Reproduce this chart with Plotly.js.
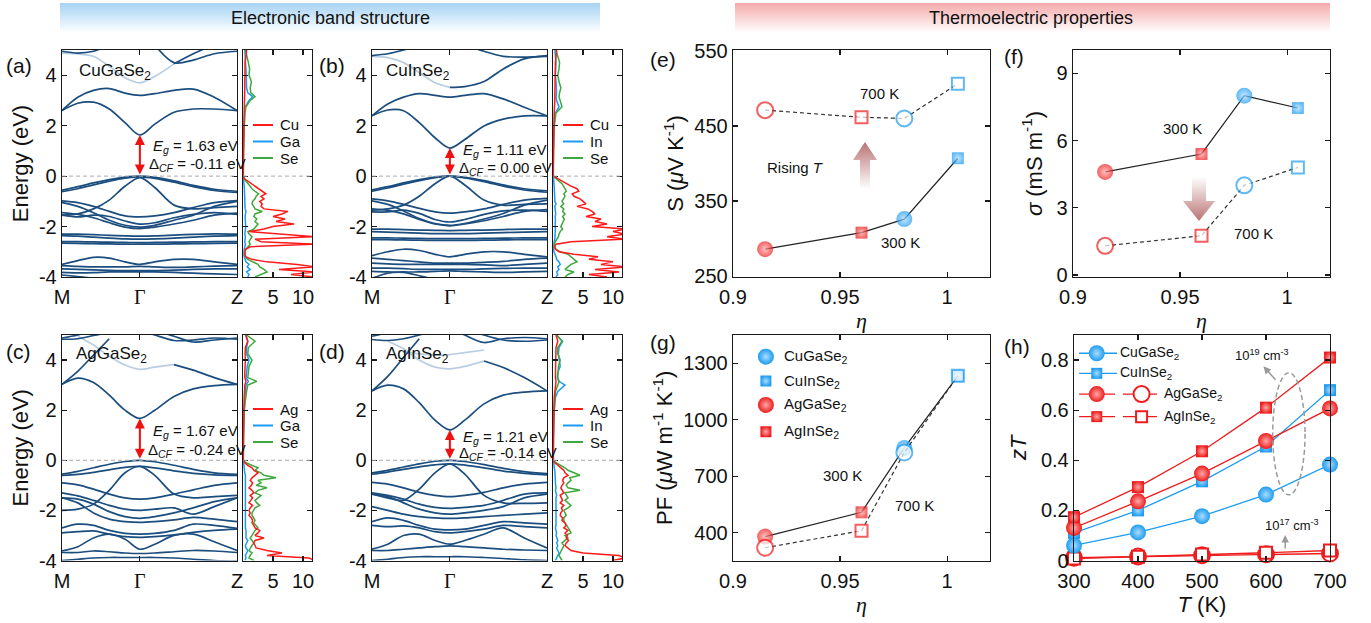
<!DOCTYPE html>
<html><head><meta charset="utf-8">
<script src="https://cdn.plot.ly/plotly-3.0.1.min.js"></script>
<style>html,body{margin:0;padding:0;background:#fff}#chart{width:1371px;height:623px}</style>
</head><body><div id="chart"></div>
<script>
// ---------------- DATA ----------------
const kpts = [0, 0.09, 0.18, 0.27, 0.36, 0.445, 0.53, 0.64, 0.75, 0.87, 1.0];
const kGamma = 0.445;
const kLabels = ['M', 'Γ', 'Z'];

// (a) CuGaSe2 bands
const bandsA = [
 [2.6, 2.89, 2.93, 2.66, 2.12, 1.63, 2.06, 2.53, 2.66, 2.66, 2.6],
 [2.6, 3.13, 3.4, 3.47, 3.29, 3.2, 3.27, 3.4, 3.45, 3.13, 2.6],
 [4.95, 4.88, 4.95, 5.2, null, null, null, null, null, null, null],
 [null, null, null, null, null, null, null, 4.45, 4.85, 5.2, 5.4],
 [null, null, null, null, null, null, 5.2, 4.5, 4.6, 4.85, 4.95],
 [-0.56, -0.42, -0.27, -0.14, -0.04, 0.0, -0.05, -0.19, -0.37, -0.52, -0.6],
 [-0.62, -0.5, -0.35, -0.2, -0.08, -0.03, -0.09, -0.24, -0.42, -0.57, -0.65],
 [-1.55, -1.5, -1.3, -0.95, -0.4, -0.06, -0.45, -1.15, -1.3, -1.25, -1.2],
 [-0.98, -1.05, -1.2, -1.4, -1.58, -1.62, -1.58, -1.45, -1.25, -1.05, -0.97],
 [-1.05, -1.2, -1.45, -1.75, -1.95, -2.02, -1.95, -1.75, -1.55, -1.2, -1.0],
 [-1.45, -1.52, -1.65, -1.85, -2.02, -2.08, -2.02, -1.9, -1.75, -1.55, -1.47],
 [-1.55, -1.62, -1.55, -1.6, -1.78, -1.9, -1.85, -1.65, -1.52, -1.45, -1.52],
 [-2.3, -2.3, -2.32, -2.35, -2.37, -2.38, -2.37, -2.34, -2.31, -2.29, -2.3],
 [-2.36, -2.38, -2.42, -2.46, -2.49, -2.5, -2.49, -2.46, -2.42, -2.38, -2.36],
 [-2.6, -2.6, -2.61, -2.62, -2.63, -2.64, -2.63, -2.62, -2.61, -2.6, -2.6],
 [-2.66, -2.67, -2.68, -2.69, -2.7, -2.7, -2.7, -2.69, -2.68, -2.67, -2.66],
 [-3.5, -3.35, -3.22, -3.25, -3.4, -3.5, -3.4, -3.3, -3.3, -3.4, -3.5],
 [-3.55, -3.58, -3.6, -3.6, -3.6, -3.58, -3.6, -3.62, -3.6, -3.57, -3.55],
 [-3.68, -3.7, -3.72, -3.74, -3.75, -3.75, -3.75, -3.73, -3.7, -3.68, -3.68],
 [-3.82, -3.84, -3.83, -3.8, -3.8, -3.8, -3.8, -3.82, -3.85, -3.88, -3.9],
 [-3.92, -3.98, -4.05, -4.1, null, null, null, null, null, null, null]
];
const fadedA = [[4.88, 4.85, 4.75, 4.35, 3.9, 3.7, 3.95, 4.45, null, null, null]];

// (b) CuInSe2 bands
const bandsB = [
 [2.39, 2.62, 2.59, 2.12, 1.52, 1.11, 1.45, 1.99, 2.26, 2.39, 2.39],
 [2.39, 2.86, 3.13, 3.27, 3.2, 3.13, 3.2, 3.27, 3.06, 2.73, 2.39],
 [null, null, null, null, null, 3.52, 3.55, 3.75, 4.25, 4.65, 4.78],
 [4.78, 4.85, 5.0, 5.2, null, null, 5.2, 4.95, 4.75, 4.72, 4.75],
 [-0.55, -0.42, -0.27, -0.14, -0.04, 0.0, -0.05, -0.18, -0.35, -0.5, -0.58],
 [-0.6, -0.47, -0.32, -0.18, -0.06, 0.0, -0.07, -0.22, -0.4, -0.55, -0.64],
 [-1.35, -1.3, -1.15, -0.8, -0.3, 0.0, -0.35, -0.95, -1.15, -1.12, -1.1],
 [-0.9, -0.98, -1.12, -1.28, -1.42, -1.47, -1.42, -1.3, -1.12, -0.95, -0.88],
 [-0.98, -1.12, -1.38, -1.68, -1.88, -1.95, -1.88, -1.7, -1.48, -1.15, -0.95],
 [-1.3, -1.36, -1.5, -1.72, -1.9, -1.97, -1.9, -1.77, -1.6, -1.4, -1.33],
 [-1.42, -1.42, -1.35, -1.48, -1.72, -1.82, -1.72, -1.52, -1.38, -1.35, -1.4],
 [-2.1, -2.1, -2.12, -2.14, -2.15, -2.16, -2.15, -2.14, -2.12, -2.1, -2.1],
 [-2.2, -2.22, -2.24, -2.26, -2.28, -2.28, -2.28, -2.26, -2.24, -2.22, -2.2],
 [-2.45, -2.45, -2.46, -2.47, -2.48, -2.48, -2.48, -2.47, -2.46, -2.45, -2.45],
 [-2.52, -2.52, -2.53, -2.54, -2.55, -2.55, -2.55, -2.54, -2.53, -2.52, -2.52],
 [-3.15, -3.0, -2.9, -2.95, -3.1, -3.2, -3.1, -3.0, -3.0, -3.1, -3.2],
 [-3.25, -3.3, -3.35, -3.4, -3.45, -3.45, -3.45, -3.42, -3.38, -3.3, -3.25],
 [-3.45, -3.48, -3.5, -3.5, -3.5, -3.5, -3.5, -3.52, -3.55, -3.5, -3.45],
 [-3.65, -3.65, -3.67, -3.7, -3.7, -3.7, -3.7, -3.68, -3.66, -3.65, -3.65],
 [-3.78, -3.8, -3.8, -3.8, -3.78, -3.76, -3.78, -3.8, -3.82, -3.8, -3.78],
 [-4.05, -3.85, -3.82, -3.95, -4.1, null, null, null, null, null, null]
];
const fadedB = [[4.75, 4.7, 4.5, 4.1, 3.7, 3.52, null, null, null, null, null]];

// (c) AgGaSe2 bands
const bandsC = [
 [3.03, 3.28, 3.1, 2.6, 2.0, 1.67, 2.0, 2.55, 2.85, 2.98, 3.03],
 [3.03, 3.55, 4.2, 4.85, null, null, null, null, null, null, null],
 [null, null, null, null, null, null, null, 3.82, 3.6, 3.3, 3.03],
 [4.83, 4.85, 4.98, 5.1, 5.2, 5.2, 5.0, 4.78, 4.8, 4.88, 4.83],
 [4.88, 5.0, 5.2, 5.3, null, null, 5.2, 4.95, 4.72, 4.8, 4.88],
 [-0.55, -0.44, -0.3, -0.16, -0.05, 0.0, -0.06, -0.2, -0.36, -0.5, -0.56],
 [-0.6, -0.56, -0.48, -0.38, -0.28, -0.24, -0.3, -0.42, -0.52, -0.58, -0.6],
 [-2.0, -1.95, -1.75, -1.2, -0.5, -0.24, -0.6, -1.35, -1.5, -1.45, -1.4],
 [-0.9, -0.98, -1.15, -1.35, -1.5, -1.55, -1.5, -1.35, -1.18, -1.0, -0.9],
 [-1.3, -1.42, -1.6, -1.8, -1.95, -2.0, -1.95, -1.9, -2.15, -1.85, -1.5],
 [-1.5, -1.55, -1.75, -2.05, -2.25, -2.32, -2.25, -2.1, -1.9, -1.65, -1.5],
 [-1.5, -1.7, -2.1, -2.35, -2.45, -2.48, -2.45, -2.38, -2.28, -2.35, -2.45],
 [-2.7, -2.55, -2.6, -2.8, -2.92, -2.95, -2.92, -2.8, -2.55, -2.6, -2.72],
 [-2.9, -2.85, -2.82, -2.95, -3.05, -3.08, -3.05, -2.98, -2.88, -2.8, -2.75],
 [-3.62, -3.45, -3.1, -2.95, -3.15, -3.55, -3.35, -3.0, -2.95, -3.25, -3.6],
 [-3.68, -3.68, -3.62, -3.65, -3.7, -3.72, -3.7, -3.65, -3.6, -3.62, -3.68],
 [-4.0, -3.95, -3.9, -3.88, -3.88, -3.88, -3.88, -3.9, -3.95, -4.0, -4.02]
];
const fadedC = [[null, 4.95, 4.6, 4.15, 3.8, 3.63, 3.72, 3.82, null, null, null]];

// (d) AgInSe2 bands
const bandsD = [
 [2.77, 3.0, 2.85, 2.3, 1.6, 1.21, 1.6, 2.25, 2.6, 2.72, 2.77],
 [2.77, 3.35, 4.1, 4.85, null, null, null, null, null, null, null],
 [null, null, null, null, null, null, null, 3.96, 3.7, 3.3, 2.77],
 [4.82, 4.78, 4.85, 5.0, 5.2, 5.3, 5.0, 4.7, 4.85, 4.9, 4.85],
 [4.95, 5.1, 5.3, null, null, null, 5.3, 5.0, 4.8, 4.75, 4.8],
 [-0.5, -0.4, -0.27, -0.14, -0.04, 0.0, -0.05, -0.17, -0.32, -0.45, -0.53],
 [-0.55, -0.47, -0.36, -0.26, -0.18, -0.14, -0.19, -0.3, -0.43, -0.52, -0.58],
 [-1.35, -1.5, -1.6, -1.15, -0.5, -0.14, -0.55, -1.4, -1.7, -1.72, -1.7],
 [-0.88, -0.95, -1.1, -1.28, -1.4, -1.45, -1.4, -1.28, -1.1, -0.95, -0.88],
 [-1.3, -1.4, -1.55, -1.75, -1.88, -1.92, -1.88, -1.8, -1.6, -1.35, -1.3],
 [-1.35, -1.45, -1.7, -1.95, -2.1, -2.15, -2.1, -2.0, -1.85, -1.5, -1.35],
 [-1.85, -2.0, -2.15, -2.25, -2.3, -2.32, -2.3, -2.25, -2.2, -2.15, -2.1],
 [-2.45, -2.3, -2.4, -2.6, -2.75, -2.78, -2.75, -2.6, -2.45, -2.5, -2.55],
 [-2.6, -2.65, -2.62, -2.7, -2.85, -2.9, -2.85, -2.75, -2.6, -2.65, -2.7],
 [-3.55, -3.35, -3.0, -2.95, -3.2, -3.35, -3.2, -2.95, -2.7, -3.1, -3.5],
 [-3.6, -3.6, -3.55, -3.5, -3.45, -3.42, -3.45, -3.5, -3.55, -3.58, -3.6],
 [-4.0, -3.95, -3.88, -3.85, -3.85, -3.85, -3.85, -3.88, -3.92, -3.97, -4.0]
];
const fadedD = [
 [null, 4.75, 4.45, 4.0, 3.72, 3.65, 3.75, 3.96, null, null, null],
 [null, null, 4.35, 4.25, 4.2, 4.22, 4.3, 4.4, null, null, null]
];

const gapText = {
 a: ['1.63', '-0.11'], b: ['1.11', '0.00'], c: ['1.67', '-0.24'], d: ['1.21', '-0.14']
};
const gapValue = {a: 1.63, b: 1.11, c: 1.67, d: 1.21};

// DOS energy grid and projected DOS
const dosE = [-4.0,-3.9,-3.8,-3.7,-3.6,-3.5,-3.4,-3.3,-3.2,-3.1,
 -3.0,-2.9,-2.8,-2.7,-2.6,-2.5,-2.4,-2.3,-2.2,-2.1,
 -2.0,-1.9,-1.8,-1.7,-1.6,-1.5,-1.4,-1.3,-1.2,-1.1,
 -1.0,-0.9,-0.8,-0.7,-0.6,-0.5,-0.4,-0.3,-0.2,-0.1,
 0.0,
 0.2,1.0,1.5,2.0,2.5,2.75,3.0,3.15,3.3,3.5,
 3.75,4.0,4.25,4.5,4.75,5.0];

const dosA_Cu = [12,8,12,6,12,9,4,1.5,0.5,0.3,
 0.3,0.4,1.2,12,3,2,12,6,1.0,3.5,
 5.0,8.5,5.5,7.0,5.0,6.5,7.5,3.5,3.0,3.2,
 2.8,3.5,3.0,3.8,3.2,2.5,2.0,1.5,0.8,0.2,
 0.05,
 0.05,0.05,0.1,0.15,0.2,0.25,0.3,0.35,0.3,0.3,
 0.3,0.3,0.35,0.35,0.5,0.6];
const dosA_Ga = [0.8,1.0,0.6,1.2,0.7,1.0,0.5,0.3,0.2,0.15,
 0.15,0.2,0.3,0.4,0.3,0.35,0.4,0.3,0.3,0.4,
 0.45,0.4,0.35,0.4,0.35,0.4,0.5,0.35,0.3,0.3,
 0.3,0.3,0.3,0.3,0.3,0.25,0.2,0.15,0.1,0.05,
 0.02,
 0.02,0.05,0.1,0.15,0.3,0.4,1.0,1.6,0.8,0.6,
 0.6,0.5,0.5,0.4,0.3,0.3];
const dosA_Se = [2,3,4,3.5,2.8,2.5,1.5,0.8,0.4,0.3,
 0.3,0.5,0.8,1.2,1.0,1.2,1.5,1.0,0.8,1.8,
 2.2,2.5,2.0,2.3,1.8,2.0,3.2,2.0,1.8,1.5,
 1.6,2.0,2.2,2.6,2.0,1.5,1.2,0.8,0.4,0.15,
 0.05,
 0.05,0.05,0.1,0.2,0.3,0.5,1.2,2.0,1.3,1.2,
 1.4,1.0,1.1,0.9,0.6,0.4];

const dosB_Cu = [9,6,11,7,12,8,10,6,7.5,3.5,
 1.0,0.4,0.3,0.5,3,12,9,12,10,12,
 6.5,9.0,7.0,8.0,5.5,7.0,6.5,5.8,4.0,5.5,
 5.0,4.5,3.5,3.2,4.3,4.0,3.0,2.2,1.5,0.8,
 0.05,
 0.05,0.05,0.1,0.15,0.2,0.3,0.3,0.3,0.3,0.3,
 0.35,0.3,0.35,0.4,0.5,0.6];
const dosB_In = [0.5,0.8,0.6,1.0,0.8,1.2,1.0,0.6,0.5,0.3,
 0.15,0.1,0.1,0.15,0.2,0.3,0.35,0.4,0.35,0.4,
 0.35,0.4,0.35,0.4,0.35,0.45,0.4,0.35,0.3,0.5,
 0.3,0.3,0.3,0.3,0.3,0.25,0.2,0.15,0.1,0.05,
 0.02,
 0.02,0.05,0.1,0.2,0.4,1.0,0.6,0.5,0.6,0.6,
 0.5,0.4,0.5,0.5,0.4,0.3];
const dosB_Se = [2.0,2.5,3.5,2.0,2.5,3.0,4.0,3.5,3.0,2.5,
 1.2,0.5,0.2,0.2,0.4,0.7,0.9,1.0,1.2,1.6,
 1.3,1.5,1.7,1.9,1.6,2.0,1.6,1.8,1.3,1.8,
 1.5,1.7,2.0,1.8,2.2,2.0,1.8,1.5,1.0,0.5,
 0.05,
 0.05,0.05,0.1,0.2,0.5,1.5,1.2,1.0,1.1,1.3,
 1.0,0.8,1.0,1.1,0.8,0.5];

const dosC_Ag = [12,11,4.0,6.5,4.0,2.2,2.0,1.8,2.0,3.5,
 2.0,2.5,2.8,2.0,1.8,1.5,1.6,1.4,1.0,1.2,
 1.0,1.2,1.6,1.0,1.3,1.6,1.2,1.8,1.5,1.0,
 1.4,1.6,1.2,1.5,2.0,2.5,1.8,1.5,0.8,0.3,
 0.05,
 0.05,0.05,0.1,0.15,0.2,0.25,0.3,0.5,0.3,0.3,
 0.4,0.4,0.35,0.4,0.8,0.5];
const dosC_Ga = [0.3,0.5,0.4,0.6,0.8,0.5,0.4,0.6,0.8,0.5,
 0.5,0.6,0.5,0.4,0.4,0.5,0.4,0.4,0.4,0.4,
 0.4,0.4,0.4,0.5,0.4,0.5,0.5,0.5,0.4,0.4,
 0.4,0.4,0.4,0.4,0.4,0.3,0.3,0.2,0.15,0.1,
 0.02,
 0.02,0.05,0.1,0.2,0.3,0.4,0.5,0.9,0.5,0.6,
 0.7,1.0,0.6,0.6,0.8,0.4];
const dosC_Se = [1.8,1.0,1.2,1.5,1.0,1.2,1.5,1.8,1.5,1.2,
 1.5,1.8,2.0,2.5,2.2,1.8,2.0,1.8,1.5,1.5,
 1.8,2.0,2.8,2.3,2.0,2.5,3.0,2.0,2.5,4.0,
 2.2,3.0,2.5,5.5,3.5,3.0,2.0,2.5,1.5,0.5,
 0.05,
 0.05,0.05,0.1,0.2,0.4,0.6,0.8,2.3,0.8,0.9,
 1.0,1.5,0.8,0.9,2.0,0.6];

const dosD_Ag = [10,12,11,5.0,3.0,2.5,2.0,2.2,2.6,2.2,
 2.4,2.0,2.5,1.8,2.2,2.0,1.5,1.6,1.2,1.3,
 1.6,1.4,1.8,1.2,1.6,1.4,1.2,1.8,1.6,1.3,
 1.5,1.8,1.6,1.8,2.5,2.0,1.8,1.2,0.8,0.3,
 0.05,
 0.05,0.05,0.1,0.15,0.2,0.3,0.4,0.5,0.4,0.4,
 0.5,0.5,0.4,0.5,0.8,0.5];
const dosD_In = [0.4,0.6,0.8,1.0,0.8,0.6,0.8,0.6,0.8,0.7,
 0.5,0.6,0.5,0.4,0.5,0.5,0.4,0.4,0.5,0.5,
 0.4,0.5,0.5,0.4,0.5,0.5,0.6,0.5,0.4,0.5,
 0.4,0.4,0.4,0.4,0.4,0.3,0.3,0.2,0.15,0.1,
 0.02,
 0.02,0.05,0.1,0.2,0.4,0.8,2.0,1.0,0.7,0.8,
 1.2,1.0,0.9,1.0,1.6,0.6];
const dosD_Se = [1.5,1.2,1.0,1.2,1.4,1.5,1.8,1.5,2.0,2.5,
 2.0,3.0,2.8,2.5,2.2,2.0,1.8,1.8,2.2,2.0,
 1.8,2.5,3.0,2.5,2.0,2.5,2.2,2.0,4.5,2.5,
 2.2,2.5,3.0,2.8,4.5,3.5,2.5,2.0,1.2,0.5,
 0.05,
 0.05,0.05,0.1,0.2,0.3,0.4,0.8,1.0,0.8,0.8,
 0.9,1.2,0.8,0.8,1.5,0.6];

// Thermoelectric data
const materials = ['AgGaSe2', 'AgInSe2', 'CuGaSe2', 'CuInSe2'];
const eta = [0.915, 0.96, 0.98, 1.005];
const S_300 = [286, 308, 326, 407];
const S_700 = [471, 461.5, 460, 506];
const sigma_300 = [4.6, 5.4, 8.0, 7.45];
const sigma_700 = [1.3, 1.75, 4.0, 4.8];
const PF_300 = [379, 508, 850, 1233];
const PF_700 = [320, 410, 826, 1233];

const T = [300, 400, 500, 600, 700];
const zT_CuGaSe2 = [0.06, 0.112, 0.177, 0.263, 0.383];
const zT_CuInSe2 = [0.11, 0.20, 0.316, 0.455, 0.68];
const zT_AgGaSe2_hi = [0.13, 0.236, 0.347, 0.477, 0.607];
const zT_AgInSe2_hi = [0.173, 0.293, 0.436, 0.61, 0.81];
const zT_AgGaSe2_lo = [0.011, 0.016, 0.021, 0.025, 0.028];
const zT_AgInSe2_lo = [0.008, 0.015, 0.024, 0.031, 0.04];

// ---------------- STYLE / LAYOUT ----------------
const W = 1371, H = 623;
const NAVY = '#1b4d7e', FADE = '#b9cde2';
const BLUE = '#1e9cf0', RED = '#ee1c1c';
const BLUE_C = '#a9dcff', RED_C = '#ffa8a8';
const DOS_RED = '#ff1a1a', DOS_BLUE = '#1a9af5', DOS_GREEN = '#3da83d';
const FONT = 'Liberation Sans, Arial, sans-serif';
const SERIF = 'Liberation Serif, Times New Roman, serif';
const TICK = 20, TITLE = 22;

const dx = (a, b) => [a / W, b / W];
const dy = (top, bottom) => [1 - bottom / H, 1 - top / H];
const P = (x, y) => ({x: x / W, y: 1 - y / H});

const bandXL = dx(62, 237), dosXL = dx(243, 312), bandXR = dx(372, 547), dosXR = dx(553, 622);
const row1 = dy(50, 277), row2 = dy(335, 560.5);
const eX = dx(733, 990), fX = dx(1073, 1330), gX = dx(733, 990), hX = dx(1074, 1330);

const traces = [];
const ax = n => (n === 1 ? '' : String(n));
const centerOf = c => (c === RED ? RED_C : BLUE_C);

function addBands(bands, faded, n) {
  faded.forEach(b => traces.push({x: kpts, y: b, xaxis: 'x' + ax(n), yaxis: 'y' + ax(n), mode: 'lines',
    line: {color: FADE, width: 1.7, shape: 'spline', smoothing: 0.9}, hoverinfo: 'skip'}));
  bands.forEach(b => traces.push({x: kpts, y: b, xaxis: 'x' + ax(n), yaxis: 'y' + ax(n), mode: 'lines',
    line: {color: NAVY, width: 1.7, shape: 'spline', smoothing: 0.9}, hoverinfo: 'skip'}));
}
function addDOS(d1, d2, d3, n) {
  [[d2, DOS_BLUE], [d3, DOS_GREEN], [d1, DOS_RED]].forEach(([d, c]) => traces.push({
    x: d, y: dosE, xaxis: 'x' + ax(n), yaxis: 'y' + ax(n), mode: 'lines',
    line: {color: c, width: 1.5}, hoverinfo: 'skip'}));
}
addBands(bandsA, fadedA, 1); addDOS(dosA_Cu, dosA_Ga, dosA_Se, 2);
addBands(bandsB, fadedB, 3); addDOS(dosB_Cu, dosB_In, dosB_Se, 4);
addBands(bandsC, fadedC, 5); addDOS(dosC_Ag, dosC_Ga, dosC_Se, 6);
addBands(bandsD, fadedD, 7); addDOS(dosD_Ag, dosD_In, dosD_Se, 8);

// property panels
const symCol = [RED, RED, BLUE, BLUE];
const symSym = ['circle', 'square', 'circle', 'square'];
const symSize = [16, 12, 16, 12];
const symGrad = symCol.map(centerOf);
function addEta(y300, y700, n) {
  traces.push({x: eta, y: y300, xaxis: 'x' + n, yaxis: 'y' + n, mode: 'lines+markers', cliponaxis: false,
    line: {color: '#222', width: 1.2},
    marker: {symbol: symSym, size: symSize, color: symCol, gradient: {type: 'radial', color: symGrad}, line: {width: 0}},
    hoverinfo: 'skip'});
  traces.push({x: eta, y: y700, xaxis: 'x' + n, yaxis: 'y' + n, mode: 'lines+markers', cliponaxis: false,
    line: {color: '#333', width: 1.2, dash: '4px,3px'},
    marker: {symbol: symSym, size: symSize, color: '#fff', line: {color: symCol, width: 2}},
    hoverinfo: 'skip'});
}
addEta(S_300, S_700, 9);
addEta(sigma_300, sigma_700, 10);
addEta(PF_300, PF_700, 11);

function addZT(y, color, sym, size, filled) {
  traces.push({x: T, y: y, xaxis: 'x12', yaxis: 'y12', mode: 'lines+markers', cliponaxis: false,
    line: {color: color, width: 1.3},
    marker: filled ? {symbol: sym, size: size, color: color, gradient: {type: 'radial', color: centerOf(color)}, line: {width: 0}}
                   : {symbol: sym, size: size, color: '#fff', line: {color: color, width: 2}},
    hoverinfo: 'skip'});
}
addZT(zT_AgGaSe2_lo, RED, 'circle', 16, false);
addZT(zT_AgInSe2_lo, RED, 'square', 12, false);
addZT(zT_CuGaSe2, BLUE, 'circle', 16, true);
addZT(zT_CuInSe2, BLUE, 'square', 12, true);
addZT(zT_AgGaSe2_hi, RED, 'circle', 16, true);
addZT(zT_AgInSe2_hi, RED, 'square', 12, true);

// legend samples (layout positions inside overlay axes 13 / 14)
const legG = [['CuGaSe<sub>2</sub>', BLUE, 'circle', 16, 0.904], ['CuInSe<sub>2</sub>', BLUE, 'square', 11, 0.796],
              ['AgGaSe<sub>2</sub>', RED, 'circle', 16, 0.690], ['AgInSe<sub>2</sub>', RED, 'square', 11, 0.571]];
legG.forEach(([t, c, s, z, yy]) => traces.push({x: [0.128], y: [yy], xaxis: 'x13', yaxis: 'y13', mode: 'markers', cliponaxis: false,
  marker: {symbol: s, size: z, color: c, gradient: {type: 'radial', color: centerOf(c)}}, hoverinfo: 'skip'}));
const legH = [['CuGaSe<sub>2</sub>', BLUE, 'circle', 16, 0.919, false], ['CuInSe<sub>2</sub>', BLUE, 'square', 11, 0.830, false],
              ['AgGaSe<sub>2</sub>', RED, 'circle', 16, 0.738, true], ['AgInSe<sub>2</sub>', RED, 'square', 11, 0.638, true]];
legH.forEach(([t, c, s, z, yy, two]) => {
  traces.push({x: two ? [0.02, 0.16] : [0.02, 0.168], y: [yy, yy], xaxis: 'x14', yaxis: 'y14', mode: 'lines', cliponaxis: false,
    line: {color: c, width: 1.3}, hoverinfo: 'skip'});
  traces.push({x: [0.089], y: [yy], xaxis: 'x14', yaxis: 'y14', mode: 'markers', cliponaxis: false,
    marker: {symbol: s, size: z, color: c, gradient: {type: 'radial', color: centerOf(c)}}, hoverinfo: 'skip'});
  if (two) {
    traces.push({x: [0.191, 0.324], y: [yy, yy], xaxis: 'x14', yaxis: 'y14', mode: 'lines', cliponaxis: false,
      line: {color: c, width: 1.3}, hoverinfo: 'skip'});
    traces.push({x: [0.264], y: [yy], xaxis: 'x14', yaxis: 'y14', mode: 'markers', cliponaxis: false,
      marker: {symbol: s, size: z, color: '#fff', line: {color: c, width: 2}}, hoverinfo: 'skip'});
  }
});

function axis(domain, anchor, extra) {
  return Object.assign({domain: domain, anchor: anchor, showline: true, linecolor: '#1a1a1a', linewidth: 1.3,
    mirror: 'ticks', ticks: 'inside', ticklen: 5, tickwidth: 1.2, tickcolor: '#1a1a1a', showgrid: false,
    zeroline: false, tickfont: {size: TICK, color: '#111', family: FONT}, fixedrange: true}, extra);
}
const bandTickText = ['M', '<span style="font-family:' + SERIF + '">Γ</span>', 'Z'];
const bandX = d => ({range: [0, 1], tickvals: [0, kGamma, 1], ticktext: bandTickText, ticklabelstandoff: 2});
const bandY = (title) => ({range: [-4, 5], tickvals: [-4, -2, 0, 2, 4], ticktext: ['-4', '-2', '0', '2', '4'],
  title: title ? {text: 'Energy (eV)', font: {size: TITLE, color: '#111'}, standoff: 4} : undefined});
const dosX = {range: [0, 11.5], tickvals: [5, 10], ticktext: ['5', '10'], ticklabelstandoff: 2};
const dosY = {range: [-4, 5], tickvals: [-4, -2, 0, 2, 4], showticklabels: false};
const etaX = {range: [0.9, 1.02], tickvals: [0.9, 0.95, 1], ticktext: ['0.9', '0.95', '1'], ticklabelstandoff: 2,
  title: {text: '<i>η</i>', font: {size: TITLE, family: SERIF, color: '#111'}, standoff: 4}};

const layout = {
  width: W, height: H, margin: {l: 0, r: 0, t: 0, b: 0}, showlegend: false,
  paper_bgcolor: '#fff', plot_bgcolor: 'rgba(0,0,0,0)', font: {family: FONT, color: '#111'},
  xaxis: axis(bandXL, 'y', bandX()), yaxis: axis(row1, 'x', bandY(true)),
  xaxis2: axis(dosXL, 'y2', dosX), yaxis2: axis(row1, 'x2', dosY),
  xaxis3: axis(bandXR, 'y3', bandX()), yaxis3: axis(row1, 'x3', bandY(false)),
  xaxis4: axis(dosXR, 'y4', dosX), yaxis4: axis(row1, 'x4', dosY),
  xaxis5: axis(bandXL, 'y5', bandX()), yaxis5: axis(row2, 'x5', bandY(true)),
  xaxis6: axis(dosXL, 'y6', dosX), yaxis6: axis(row2, 'x6', dosY),
  xaxis7: axis(bandXR, 'y7', bandX()), yaxis7: axis(row2, 'x7', bandY(false)),
  xaxis8: axis(dosXR, 'y8', dosX), yaxis8: axis(row2, 'x8', dosY),
  xaxis9: axis(eX, 'y9', etaX),
  yaxis9: axis(row1, 'x9', {range: [249, 551], tickvals: [250, 350, 450, 550],
    title: {text: 'S (<i>μ</i>V K<sup>-1</sup>)', font: {size: TITLE, color: '#111'}, standoff: 4}}),
  xaxis10: axis(fX, 'y10', etaX),
  yaxis10: axis(row1, 'x10', {range: [-0.09, 10.04], tickvals: [0, 3, 6, 9],
    title: {text: '<i>σ</i> (mS m<sup>-1</sup>)', font: {size: TITLE, color: '#111'}, standoff: 8}}),
  xaxis11: axis(gX, 'y11', etaX),
  yaxis11: axis(row2, 'x11', {range: [252, 1450], tickvals: [400, 700, 1000, 1300],
    title: {text: 'PF (<i>μ</i>W m<sup>-1</sup> K<sup>-1</sup>)', font: {size: TITLE, color: '#111'}, standoff: 4}}),
  xaxis12: axis(hX, 'y12', {range: [300, 700], tickvals: [300, 400, 500, 600, 700], ticklabelstandoff: 2,
    title: {text: '<i>T</i> (K)', font: {size: TITLE, color: '#111'}, standoff: 2}}),
  yaxis12: axis(row2, 'x12', {range: [0, 0.9], tickvals: [0, 0.2, 0.4, 0.6, 0.8], ticktext: ['0', '0.2', '0.4', '0.6', '0.8'],
    title: {text: '<i>zT</i>', font: {size: TITLE, color: '#111'}, standoff: 8}}),
  xaxis13: {domain: gX, anchor: 'y13', range: [0, 1], visible: false, fixedrange: true},
  yaxis13: {domain: row2, anchor: 'x13', range: [0, 1], visible: false, fixedrange: true},
  xaxis14: {domain: hX, anchor: 'y14', range: [0, 1], visible: false, fixedrange: true},
  yaxis14: {domain: row2, anchor: 'x14', range: [0, 1], visible: false, fixedrange: true},
  shapes: [], annotations: [], images: []
};

// zero lines
[1, 2, 3, 4, 5, 6, 7, 8].forEach(n => layout.shapes.push({type: 'line', xref: 'x' + ax(n) + ' domain', yref: 'y' + ax(n),
  x0: 0, x1: 1, y0: 0, y1: 0, line: {color: '#aaaaaa', width: 1, dash: '4px,3px'}, layer: 'above'}));

// ellipse in (h)
layout.shapes.push({type: 'circle', xref: 'x12', yref: 'y12', x0: 610.5, x1: 661, y0: 0.262, y1: 0.749,
  line: {color: '#9a9a9a', width: 1.5, dash: '5px,3px'}});

const ann = layout.annotations;
function txt(p, text, size, opts) {
  ann.push(Object.assign({xref: 'paper', yref: 'paper', x: p.x, y: p.y, text: text, showarrow: false,
    font: {size: size, color: '#111', family: FONT}, xanchor: 'center', yanchor: 'middle'}, opts || {}));
}
// headers
txt(P(330, 18), 'Electronic band structure', 18);
txt(P(1031, 18), 'Thermoelectric properties', 18);
// panel labels
[['(a)', 4, 65], ['(b)', 317, 65], ['(c)', 4, 351], ['(d)', 317, 351],
 ['(e)', 648, 60], ['(f)', 1002, 56], ['(g)', 648, 342], ['(h)', 1002, 346]].forEach(([t, x, y]) =>
  txt(P(x, y), t, 21, {xanchor: 'left'}));
// compound labels
[['CuGaSe<sub>2</sub>', 77, 72], ['CuInSe<sub>2</sub>', 384, 72], ['AgGaSe<sub>2</sub>', 74, 355], ['AgInSe<sub>2</sub>', 384, 355]]
  .forEach(([t, x, y]) => txt(P(x, y), t, 17, {xanchor: 'left'}));
// gap texts and arrows
const gapPos = {a: [151, 146, 147, 165, 1], b: [461, 150, 457, 168, 3], c: [151, 431, 146, 450, 5], d: [461, 437, 457, 453, 7]};
Object.keys(gapPos).forEach(k => {
  const [x1, y1, x2, y2, n] = gapPos[k];
  txt(P(x1, y1), '<i>E<sub>g</sub></i> = ' + gapText[k][0] + ' eV', 15, {xanchor: 'left'});
  txt(P(x2, y2), 'Δ<sub><i>CF</i></sub> = ' + gapText[k][1] + ' eV', 15, {xanchor: 'left'});
  ann.push({xref: 'x' + ax(n), yref: 'y' + ax(n), axref: 'x' + ax(n), ayref: 'y' + ax(n),
    x: kGamma, y: gapValue[k], ax: kGamma, ay: 0, text: '', showarrow: true,
    arrowhead: 2, arrowside: 'end+start', arrowsize: 1, arrowwidth: 2, arrowcolor: '#ee1111', standoff: 0, startstandoff: 0});
});
// DOS legends
const dosLeg = [[['Cu', 'Ga', 'Se'], 253, 125], [['Cu', 'In', 'Se'], 563, 125], [['Ag', 'Ga', 'Se'], 253, 409], [['Ag', 'In', 'Se'], 563, 409]];
dosLeg.forEach(([names, x, y]) => {
  [DOS_RED, DOS_BLUE, DOS_GREEN].forEach((c, i) => {
    const yy = y + i * 16.5;
    layout.shapes.push({type: 'line', xref: 'paper', yref: 'paper', x0: x / W, x1: (x + 20) / W, y0: 1 - yy / H, y1: 1 - yy / H,
      line: {color: c, width: 2}});
    txt(P(x + 25, yy), names[i], 15, {xanchor: 'left'});
  });
});
// (e)
txt(P(879, 93), '700 K', 15); txt(P(795, 167), 'Rising <i>T</i>', 15); txt(P(900, 242), '300 K', 15);
// (f)
txt(P(1182, 128), '300 K', 15); txt(P(1253, 233), '700 K', 15);
// (g)
txt(P(842, 475), '300 K', 15); txt(P(914, 505), '700 K', 15);
legG.forEach(([t, c, s, z, yy]) => txt(P(782, 560.5 - yy * 225.5), t, 15, {xanchor: 'left'}));
// (h)
legH.forEach(([t, c, s, z, yy, two]) => txt(P(two ? 1162 : 1118, 560.5 - yy * 225.5), t, 14, {xanchor: 'left'}));
txt(P(1262, 355), '10<sup>19</sup> cm<sup>-3</sup>', 13);
txt(P(1292, 525), '10<sup>17</sup> cm<sup>-3</sup>', 13);
ann.push({xref: 'x12', yref: 'y12', axref: 'x12', ayref: 'y12', x: 596, y: 0.775, ax: 617, ay: 0.715, text: '', showarrow: true,
  arrowhead: 2, arrowsize: 1, arrowwidth: 1.5, arrowcolor: '#9a9a9a'});
ann.push({xref: 'x12', yref: 'y12', axref: 'x12', ayref: 'y12', x: 630, y: 0.102, ax: 630, ay: 0.042, text: '', showarrow: true,
  arrowhead: 2, arrowsize: 1, arrowwidth: 1.5, arrowcolor: '#9a9a9a'});

// gradient images (header bars and arrows)
const uri = s => 'data:image/svg+xml;charset=utf-8,' + encodeURIComponent(s);
function bar(c) {
  return uri("<svg xmlns='http://www.w3.org/2000/svg' width='100' height='30' viewBox='0 0 100 30' preserveAspectRatio='none'>" +
    "<defs><linearGradient id='g' x1='0' y1='0' x2='0' y2='1'><stop offset='0' stop-color='" + c + "'/>" +
    "<stop offset='1' stop-color='#ffffff'/></linearGradient></defs><rect width='100' height='30' fill='url(#g)'/></svg>");
}
function arrowImg(up, w, h, head, body) {
  const c = 'rgb(185,115,115)';
  const hw = w / 2, bw = body / 2;
  const pts = up ? `${hw},0 ${w},${head} ${hw + bw},${head} ${hw + bw},${h} ${hw - bw},${h} ${hw - bw},${head} 0,${head}`
                 : `${hw},${h} ${w},${h - head} ${hw + bw},${h - head} ${hw + bw},0 ${hw - bw},0 ${hw - bw},${h - head} 0,${h - head}`;
  const stops = up ? `<stop offset='0' stop-color='${c}'/><stop offset='1' stop-color='#ffffff'/>`
                   : `<stop offset='0' stop-color='#ffffff'/><stop offset='1' stop-color='${c}'/>`;
  return uri(`<svg xmlns='http://www.w3.org/2000/svg' width='${w}' height='${h}' viewBox='0 0 ${w} ${h}' preserveAspectRatio='none'>` +
    `<defs><linearGradient id='a' x1='0' y1='0' x2='0' y2='1'>${stops}</linearGradient></defs>` +
    `<polygon points='${pts}' fill='url(#a)'/></svg>`);
}
function img(src, x, y, w, h, layer) {
  layout.images.push({source: src, xref: 'paper', yref: 'paper', x: x / W, y: 1 - y / H, sizex: w / W, sizey: h / H,
    xanchor: 'left', yanchor: 'top', sizing: 'stretch', layer: layer || 'above'});
}
img(bar('#a6d3f4'), 60, 3, 540, 30, 'below');
img(bar('#f5aaaa'), 735, 3, 595, 30, 'below');
img(arrowImg(true, 24, 47, 18, 10), 853, 142, 24, 47);
img(arrowImg(false, 32, 44, 20, 14), 1183, 177, 32, 44);

Plotly.newPlot('chart', traces, layout, {staticPlot: true, displayModeBar: false});
</script></body></html>
